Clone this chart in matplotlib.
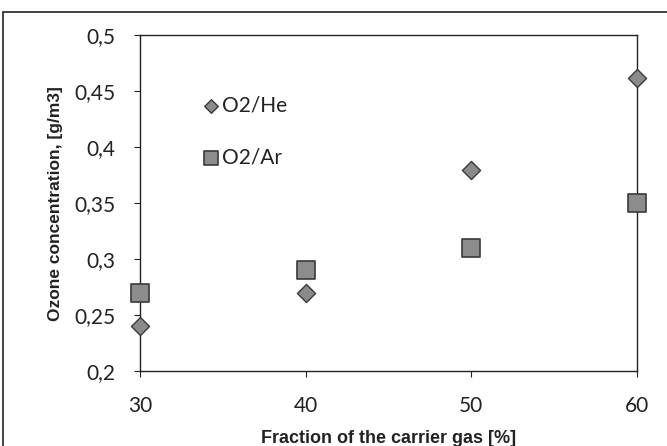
import matplotlib
matplotlib.use("Agg")
import matplotlib.pyplot as plt
from matplotlib.patches import Rectangle

fraction = [30, 40, 50, 60]
o2_he = [0.24, 0.27, 0.38, 0.462]
o2_ar = [0.27, 0.29, 0.31, 0.35]
y_ticks = [0.2, 0.25, 0.3, 0.35, 0.4, 0.45, 0.5]
y_tick_labels = ["0,2", "0,25", "0,3", "0,35", "0,4", "0,45", "0,5"]
x_ticks = [30, 40, 50, 60]

fig = plt.figure(figsize=(6.67, 4.46), dpi=100)
ax = fig.add_axes([0.21, 0.168, 0.745, 0.753])

ax.scatter(fraction, o2_he, marker="D", s=85, color="#8a8a8a",
           edgecolor="#3a3a3a", linewidth=1.0, label="O2/He", zorder=3, clip_on=False)
ax.scatter(fraction, o2_ar, marker="s", s=180, color="#8c8c8c",
           edgecolor="#3a3a3a", linewidth=1.2, label="O2/Ar", zorder=3, clip_on=False)

ax.set_xlim(30, 60)
ax.set_ylim(0.2, 0.5)
ax.set_xticks(x_ticks)
ax.set_yticks(y_ticks)
ax.set_yticklabels(y_tick_labels)
ax.tick_params(axis="both", direction="out", length=4, width=0.8,
               labelsize=15, colors="#222222")
ax.tick_params(axis="y", pad=14)
ax.tick_params(axis="x", pad=14)
for lab in ax.get_xticklabels() + ax.get_yticklabels():
    lab.set_fontfamily("Lato")
for sp in ax.spines.values():
    sp.set_color("#222222")
    sp.set_linewidth(1.0)

ax.set_xlabel("Fraction of the carrier gas [%]", fontsize=13,
              fontweight="bold", family="Liberation Sans", color="#222222", labelpad=10)
ax.set_ylabel("Ozone concentration, [g/m3]", fontsize=12.5,
              fontweight="bold", family="Liberation Sans", color="#222222", labelpad=8)

leg = ax.legend(loc="upper left", bbox_to_anchor=(0.085, 0.875), frameon=False,
                prop={"family": "Lato", "size": 15}, handletextpad=0.0,
                handlelength=1.0, labelspacing=1.5, markerscale=0.75, scatterpoints=1)
for t in leg.get_texts():
    t.set_color("#222222")

fig.patches.append(Rectangle((3 / 667, -0.01), 1.0, 1 - 12 / 446 + 0.01,
                             transform=fig.transFigure, fill=False,
                             edgecolor="#222222", linewidth=1.2))

fig.savefig("out.png", dpi=100)
